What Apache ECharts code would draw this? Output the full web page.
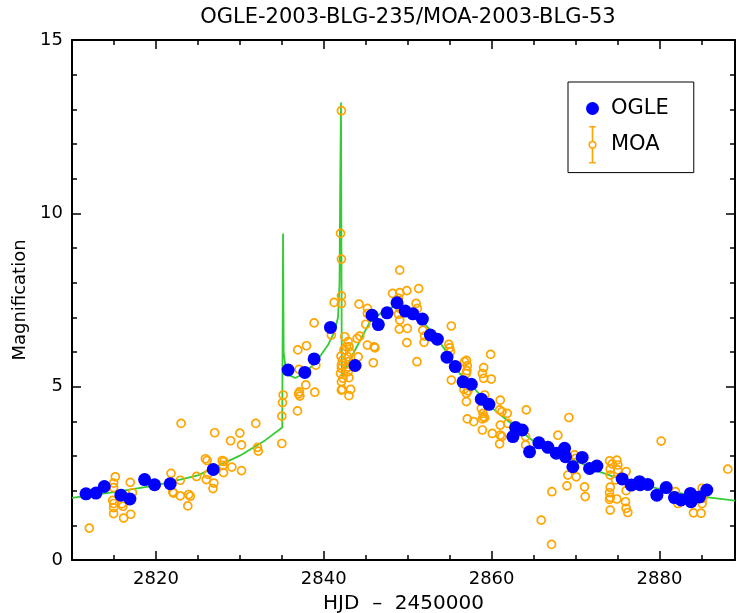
<!DOCTYPE html>
<html>
<head>
<meta charset="utf-8">
<script src="https://cdn.jsdelivr.net/npm/echarts@6/dist/echarts.min.js"></script>
<style>
html, body { margin: 0; padding: 0; background: #fff; }
#main { width: 737px; height: 613px; }
</style>
</head>
<body>
<div id="main"></div>
<script>
// tick labels
var xMajor = [2820, 2840, 2860, 2880];
var yTicks = [0, 5, 10, 15];

// OGLE points [HJD-2450000, magnification]
var ogle = [
    [2811.67, 1.91], [2812.86, 1.93], [2813.85, 2.12], [2815.83, 1.87], [2816.9, 1.76],
    [2818.65, 2.32], [2819.84, 2.17], [2821.7, 2.2], [2826.83, 2.61],
    [2835.75, 5.48], [2837.74, 5.41], [2838.85, 5.80], [2840.8, 6.71], [2843.73, 5.61],
    [2845.75, 7.06], [2846.5, 6.79], [2847.54, 7.13], [2848.73, 7.42], [2849.7, 7.18],
    [2850.63, 7.10], [2851.75, 6.95], [2852.7, 6.49], [2853.53, 6.37], [2854.68, 5.85],
    [2855.67, 5.58], [2856.6, 5.14], [2857.58, 5.07], [2858.77, 4.64], [2859.68, 4.49],
    [2862.54, 3.56], [2862.86, 3.82], [2863.65, 3.75], [2864.52, 3.12], [2865.63, 3.38],
    [2866.71, 3.25], [2867.7, 3.08], [2868.69, 3.22], [2868.8, 2.98], [2869.68, 2.69],
    [2870.79, 2.96], [2871.67, 2.64], [2872.54, 2.71], [2875.56, 2.34], [2876.63, 2.16],
    [2877.62, 2.26], [2877.7, 2.17], [2878.61, 2.18], [2879.69, 1.87], [2880.8, 2.09],
    [2881.79, 1.8], [2882.58, 1.73], [2883.69, 1.92], [2883.77, 1.68], [2884.77, 1.82],
    [2885.64, 2.02]
];

// MOA points
var moa = [
    [2812.06, 0.92], [2815.16, 2.40], [2814.96, 2.22], [2814.96, 2.09], [2814.85, 1.72],
    [2814.96, 1.63], [2814.96, 1.51], [2814.96, 1.34], [2816.07, 1.55], [2815.95, 1.62],
    [2816.15, 1.21], [2816.94, 2.24], [2817.2, 1.94], [2817.0, 1.32], [2821.8, 2.50],
    [2822.9, 2.30], [2822.0, 1.96], [2822.1, 1.93], [2822.9, 1.85], [2823.0, 3.94],
    [2823.9, 1.89], [2824.1, 1.84], [2823.8, 1.56], [2824.84, 2.41], [2825.9, 2.92],
    [2826.1, 2.87], [2826.0, 2.32], [2826.2, 2.47], [2827.0, 3.67], [2826.9, 2.22],
    [2826.8, 2.06], [2827.9, 2.87], [2828.1, 2.84], [2828.0, 2.73], [2828.05, 2.52],
    [2828.9, 3.44], [2829.05, 2.68], [2830.0, 3.66], [2830.2, 3.32], [2830.2, 2.58],
    [2831.9, 3.94], [2832.1, 3.25], [2832.2, 3.14], [2835.0, 4.15], [2835.08, 4.54],
    [2835.0, 3.36], [2836.87, 4.30], [2835.16, 4.76], [2836.9, 6.06], [2837.94, 6.18],
    [2837.06, 5.5], [2837.1, 4.85], [2837.15, 4.73], [2837.0, 4.79], [2837.86, 5.05],
    [2838.93, 4.84], [2839.05, 5.62], [2838.85, 6.84], [2840.9, 6.49], [2841.23, 7.43],
    [2842.1, 7.40], [2842.1, 7.62], [2842.1, 8.68], [2842.0, 9.42], [2842.1, 12.96],
    [2842.05, 5.88], [2842.2, 5.75], [2842.1, 5.62], [2842.4, 6.06], [2842.5, 6.44],
    [2842.9, 6.3], [2843.0, 6.15], [2842.7, 6.15], [2843.1, 6.0], [2842.9, 5.86],
    [2843.0, 5.72], [2842.8, 5.57], [2842.9, 5.43], [2842.7, 5.52], [2842.1, 5.53],
    [2842.0, 5.38], [2842.3, 5.24], [2842.1, 5.14], [2843.0, 5.26], [2842.1, 4.9],
    [2842.2, 4.92], [2843.2, 4.92], [2843.0, 4.74], [2844.1, 5.86], [2844.2, 7.38],
    [2843.97, 6.39], [2844.3, 6.46], [2845.2, 7.26], [2845.2, 7.11], [2845.0, 6.8],
    [2845.2, 6.2], [2846.0, 6.15], [2846.1, 6.12], [2845.9, 5.69], [2849.05, 8.36],
    [2848.2, 7.69], [2849.05, 7.71], [2849.9, 7.77], [2848.9, 7.55], [2848.9, 7.40],
    [2849.05, 7.26], [2848.9, 7.09], [2849.05, 6.92], [2849.0, 6.66], [2849.96, 6.68],
    [2849.9, 6.27], [2851.0, 7.40], [2851.15, 7.26], [2851.31, 7.83], [2851.1, 5.72],
    [2851.8, 6.63], [2852.02, 6.46], [2851.95, 6.28], [2855.2, 6.75], [2854.9, 6.22],
    [2855.0, 6.12], [2855.1, 6.01], [2855.2, 5.19], [2857.0, 5.76], [2857.1, 5.6],
    [2856.7, 4.92], [2857.0, 4.81], [2857.0, 4.57], [2857.1, 4.07], [2856.78, 5.72],
    [2859.88, 5.93], [2859.05, 5.55], [2858.9, 5.38], [2859.05, 5.24], [2859.96, 5.22],
    [2857.06, 5.46], [2856.98, 5.38], [2857.18, 4.88], [2859.17, 4.76], [2861.03, 4.61],
    [2858.77, 4.37], [2858.97, 4.23], [2859.05, 4.13], [2858.9, 4.07], [2859.17, 4.1],
    [2857.86, 3.99], [2858.9, 3.75], [2860.95, 4.33], [2861.23, 4.28], [2861.86, 4.23],
    [2861.03, 3.89], [2861.94, 3.94], [2860.08, 3.65], [2861.03, 3.6], [2861.23, 3.56],
    [2860.95, 3.35], [2864.13, 4.33], [2864.05, 3.56], [2864.05, 3.32], [2869.21, 4.11],
    [2867.9, 3.6], [2869.88, 3.03], [2870.0, 2.93], [2869.09, 2.45], [2870.08, 2.4],
    [2867.18, 1.97], [2865.91, 1.15], [2867.14, 0.45], [2868.97, 2.14], [2871.07, 2.11],
    [2871.15, 1.83], [2880.2, 3.43], [2888.14, 2.62], [2874.05, 2.86], [2874.92, 2.88],
    [2874.37, 2.77], [2875.04, 2.74], [2874.13, 2.62], [2875.04, 2.6], [2876.03, 2.55],
    [2874.13, 2.45], [2874.77, 2.31], [2874.13, 2.1], [2874.05, 1.94], [2874.13, 1.81],
    [2874.05, 1.75], [2876.03, 2.0], [2874.92, 1.76], [2875.96, 1.68], [2876.03, 1.49],
    [2876.23, 1.37], [2874.13, 1.44], [2881.9, 1.97], [2882.07, 1.78], [2882.19, 1.63],
    [2885.08, 2.07], [2885.16, 1.78], [2885.08, 1.63], [2884.05, 1.36], [2884.96, 1.35]
];

// model light curve
var model = [
    [2810, 1.79], [2815, 1.96], [2820, 2.15], [2825, 2.44], [2830, 3.01], [2833, 3.45],
    [2835.05, 3.82], [2835.15, 9.42], [2835.22, 6.0], [2835.45, 5.55], [2836.0, 5.32],
    [2836.6, 5.25], [2837.7, 5.38], [2839.1, 5.72], [2840.5, 6.2], [2841.3, 6.6],
    [2841.7, 7.0], [2841.88, 8.0], [2841.94, 10.3], [2842.05, 13.2], [2842.15, 5.3],
    [2843.5, 5.95], [2845.5, 6.87], [2846.7, 7.1], [2848.6, 7.36], [2850.2, 7.16],
    [2851.8, 6.87], [2853.4, 6.44], [2854.6, 6.01], [2856.2, 5.38], [2857.58, 5.05],
    [2859.76, 4.44], [2862.74, 3.86], [2864.92, 3.44], [2868.1, 3.08], [2872.46, 2.58],
    [2875.64, 2.31], [2879.6, 2.07], [2883.6, 1.87], [2889, 1.71]
];

var font = 'DejaVu Sans';
var myChart = echarts.init(document.getElementById('main'));

function frameX(pos, major) {
    var ax = {
        type: 'value', position: pos, min: 2810, max: 2889,
        axisLine: {show: true, onZero: false, lineStyle: {color: '#000', width: 2}},
        splitLine: {show: false}
    };
    if (major) {
        ax.axisTick = {show: true, inside: true, length: 9, customValues: xMajor, lineStyle: {color: '#000', width: 1.5}};
        ax.axisLabel = {
            show: pos == 'bottom', customValues: xMajor, color: '#000', fontFamily: font, fontSize: 18, margin: 10,
            formatter: function (v) { return String(v); }
        };
    } else {
        ax.interval = 5;
        ax.axisLine.show = false;
        ax.axisTick = {show: true, inside: true, length: 5, lineStyle: {color: '#000', width: 1.5}};
        ax.axisLabel = {show: false};
    }
    return ax;
}
function frameY(pos) {
    return {
        type: 'value', position: pos, min: 0, max: 15, interval: 5,
        axisLine: {show: true, onZero: false, lineStyle: {color: '#000', width: 2}},
        axisTick: {show: true, inside: true, length: 9, lineStyle: {color: '#000', width: 1.5}},
        minorTick: {show: true, splitNumber: 5, length: 5, lineStyle: {color: '#000', width: 1.5}},
        axisLabel: {
            show: pos == 'left', color: '#000', fontFamily: font, fontSize: 18, margin: 9,
            formatter: function (v) { return yTicks.indexOf(v) >= 0 ? String(v) : ''; }
        },
        splitLine: {show: false}
    };
}

var xBottom = frameX('bottom', true);
xBottom.name = 'HJD  \u2013  2450000';
xBottom.nameLocation = 'middle';
xBottom.nameGap = 34;
xBottom.nameTextStyle = {color: '#000', fontFamily: font, fontSize: 20};
var yLeft = frameY('left');
yLeft.name = 'Magnification';
yLeft.nameLocation = 'middle';
yLeft.nameGap = 40;
yLeft.nameTextStyle = {color: '#000', fontFamily: font, fontSize: 18};

var moaIcon = 'path://M0,0 L7,0 M3.5,0 L3.5,15.5 M7,19 A3.5,3.5 0 1,1 0,19 A3.5,3.5 0 1,1 7,19 M3.5,22.5 L3.5,38 M0,38 L7,38';

option = {
    animation: false,
    backgroundColor: '#fff',
    title: {
        text: 'OGLE-2003-BLG-235/MOA-2003-BLG-53',
        left: 403, top: 2, textAlign: 'center',
        textStyle: {color: '#000', fontFamily: font, fontSize: 21, fontWeight: 'normal'}
    },
    grid: {left: 72, right: 2, top: 40, bottom: 53, outerBoundsMode: 'none', containLabel: false},
    legend: {
        left: 568, top: 82, orient: 'vertical',
        itemWidth: 13, itemHeight: 36, itemGap: 7,
        padding: [16, 25, 9, 18],
        borderColor: '#000', borderWidth: 1, backgroundColor: '#fff',
        textStyle: {color: '#000', fontFamily: font, fontSize: 21, padding: [0, 0, 0, 7]},
        data: [
            {name: 'OGLE', icon: 'circle', itemStyle: {color: '#0000ff', opacity: 1}},
            {name: 'MOA', icon: moaIcon, itemStyle: {color: 'rgba(0,0,0,0)', borderColor: '#ffa500', borderWidth: 1.6, opacity: 1}}
        ]
    },
    xAxis: [xBottom, frameX('bottom', false), frameX('top', true), frameX('top', false)],
    yAxis: [yLeft, frameY('right')],
    series: [
        {
            name: 'model', type: 'line', data: model, showSymbol: false, silent: true, z: 1,
            lineStyle: {color: '#33cc33', width: 1.8}
        },
        {
            name: 'MOA', type: 'scatter', data: moa, symbolSize: 8, z: 2,
            itemStyle: {color: 'rgba(0,0,0,0)', borderColor: '#ffa500', borderWidth: 1.7, opacity: 1}
        },
        {
            name: 'OGLE', type: 'scatter', data: ogle, symbolSize: 13, z: 3,
            itemStyle: {color: '#0000ff', opacity: 1}
        }
    ]
};
myChart.setOption(option);
</script>
</body>
</html>
